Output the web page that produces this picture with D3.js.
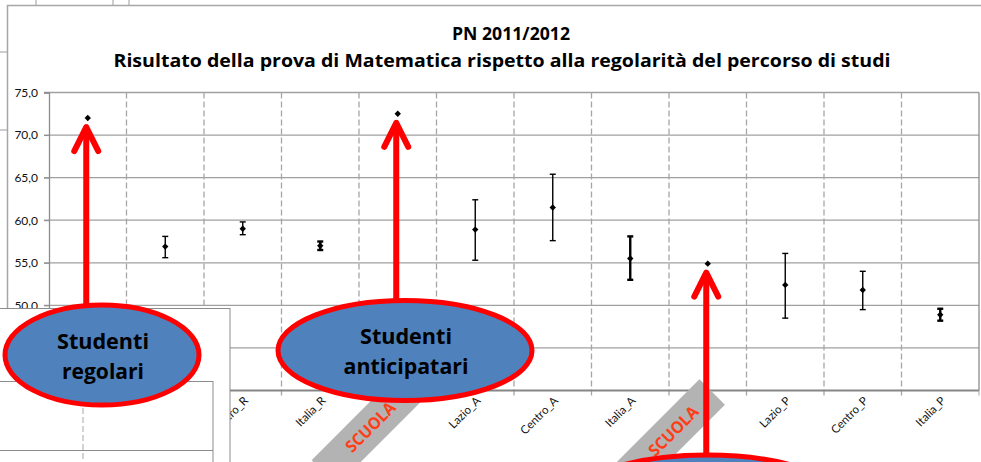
<!DOCTYPE html>
<html>
<head>
<meta charset="utf-8">
<script src="https://cdn.jsdelivr.net/npm/d3@7"></script>
<style>
  html, body { margin: 0; padding: 0; background: #fff; }
  svg { display: block; font-family: Lato, "Open Sans", sans-serif; }
</style>
</head>
<body>
<div id="chart"></div>
<script>
// categories on the x axis (the SCUOLA ones are hidden under the grey tags)
const categories = ["SCUOLA_R", "Lazio_R", "Centro_R", "Italia_R",
                    "SCUOLA_A", "Lazio_A", "Centro_A", "Italia_A",
                    "SCUOLA_P", "Lazio_P", "Centro_P", "Italia_P"];
const tickLabels = ["", "Lazio_R", "Centro_R", "Italia_R",
                    "", "Lazio_A", "Centro_A", "Italia_A",
                    "", "Lazio_P", "Centro_P", "Italia_P"];
const means = [72.0, 56.9, 59.0, 57.0, 72.5, 58.9, 61.5, 55.5, 54.9, 52.4, 51.8, 48.9];
const lows  = [null, 55.6, 58.3, 56.5, null, 55.3, 57.6, 53.0, null, 48.5, 49.5, 48.2];
const highs = [null, 58.1, 59.8, 57.5, null, 62.4, 65.4, 58.1, null, 56.1, 54.0, 49.6];
const yTicks = [40, 45, 50, 55, 60, 65, 70, 75];

const titleLines = ["PN 2011/2012",
  "Risultato della prova di Matematica rispetto alla regolarità del percorso di studi"];
const bubbleTexts = [["Studenti", "regolari"], ["Studenti", "anticipatari"], ["", ""]];
const bubbleTargets = ["SCUOLA_R", "SCUOLA_A", "SCUOLA_P"];
const tagTargets = ["SCUOLA_A", "SCUOLA_P"];

// squeeze a text to a given width (Calibri is narrower than what we have)
function squeeze(sel, w) {
  sel.attr("textLength", w).attr("lengthAdjust", "spacingAndGlyphs");
}

function drawChart(containerSelector) {
  const width = 981, height = 462;
  const left = 49, right = 979, top = 92.5, bottom = 390.5;

  const svg = d3.select(containerSelector).append("svg")
    .attr("width", width).attr("height", height);

  // spreadsheet cells peeking out behind the chart object
  [36, 113, 129].forEach(xx => svg.append("line")
    .attr("x1", xx).attr("x2", xx).attr("y1", 0).attr("y2", 5)
    .attr("stroke", "#9a9a9a"));
  [52, 130].forEach(yy => svg.append("line")
    .attr("x1", 0).attr("x2", 7).attr("y1", yy).attr("y2", yy)
    .attr("stroke", "#9a9a9a"));

  svg.append("rect")
    .attr("x", 7.5).attr("y", 5.5).attr("width", 990).attr("height", 480)
    .attr("fill", "#fff").attr("stroke", "#a6a6a6").attr("stroke-width", 1.5);

  const x = d3.scaleBand().domain(categories).range([left, right]);
  const y = d3.scaleLinear().domain([40, 75]).range([bottom, top]);
  const cx = c => x(c) + x.bandwidth() / 2;

  // title
  const title = svg.append("g")
    .attr("font-family", "'Open Sans', sans-serif").attr("font-size", 17.5)
    .attr("font-weight", "bold").attr("fill", "#000").attr("text-anchor", "middle");
  squeeze(title.append("text").attr("x", 511).attr("y", 40).text(titleLines[0]), 118);
  squeeze(title.append("text").attr("x", 502).attr("y", 67).text(titleLines[1]), 777);

  // horizontal grid
  svg.append("g").selectAll("line")
    .data(yTicks.filter(v => v > 40))
    .join("line")
    .attr("x1", left - 5).attr("x2", right)
    .attr("y1", d => y(d)).attr("y2", d => y(d))
    .attr("stroke", "#a0a0a0").attr("stroke-width", 1.3);

  // dashed category separators
  svg.append("g").selectAll("line")
    .data(categories.slice(1))
    .join("line")
    .attr("x1", d => x(d)).attr("x2", d => x(d))
    .attr("y1", top).attr("y2", bottom + 5)
    .attr("stroke", "#a6a6a6").attr("stroke-width", 1.3)
    .attr("stroke-dasharray", "6,3");

  // y axis
  const yAxis = svg.append("g")
    .attr("transform", `translate(${left},0)`)
    .call(d3.axisLeft(y).tickValues(yTicks).tickSize(5).tickPadding(6)
      .tickFormat(d => d3.format(".1f")(d).replace(".", ",")));
  yAxis.select(".domain").attr("stroke", "#8c8c8c").attr("stroke-width", 1.3);
  yAxis.selectAll(".tick line").attr("stroke", "#8c8c8c");
  yAxis.selectAll("text").attr("font-size", 12).attr("fill", "#111")
    .attr("font-family", "Lato, sans-serif");

  // right border and x axis
  svg.append("line").attr("x1", right).attr("x2", right).attr("y1", top).attr("y2", bottom)
    .attr("stroke", "#8c8c8c").attr("stroke-width", 1.3);
  svg.append("line").attr("x1", left).attr("x2", right).attr("y1", bottom).attr("y2", bottom)
    .attr("stroke", "#868686").attr("stroke-width", 2);
  svg.append("line").attr("x1", right).attr("x2", right).attr("y1", bottom).attr("y2", bottom + 5)
    .attr("stroke", "#a6a6a6");

  // x labels
  svg.append("g").selectAll("text")
    .data(categories)
    .join("text")
    .attr("transform", d => `translate(${cx(d) + 6},${bottom + 11}) rotate(-45)`)
    .attr("text-anchor", "end")
    .attr("font-size", 11.5)
    .attr("fill", "#111")
    .text((d, i) => tickLabels[i]);

  // error bars and points
  const rows = categories.map((c, i) => ({ c, m: means[i], lo: lows[i], hi: highs[i] }));
  const bars = svg.append("g").selectAll("g")
    .data(rows.filter(d => d.lo != null))
    .join("g")
    .attr("stroke", "#000")
    .attr("stroke-width", d => d.c.startsWith("Italia") ? 2.4 : 1.4);
  bars.append("line")
    .attr("x1", d => cx(d.c)).attr("x2", d => cx(d.c))
    .attr("y1", d => y(d.lo)).attr("y2", d => y(d.hi));
  ["lo", "hi"].forEach(key => bars.append("line")
    .attr("x1", d => cx(d.c) - 3).attr("x2", d => cx(d.c) + 3)
    .attr("y1", d => y(d[key])).attr("y2", d => y(d[key])));

  svg.append("g").selectAll("path")
    .data(rows)
    .join("path")
    .attr("d", d3.symbol(d3.symbolDiamond2, 26))
    .attr("transform", d => `translate(${cx(d.c)},${y(d.m)})`)
    .attr("fill", "#000");

  // grey SCUOLA tags over the hidden labels
  const tags = svg.append("g").selectAll("g")
    .data(tagTargets)
    .join("g")
    .attr("transform", (d, i) => `translate(${cx(d) - 38 + (i ? 0 : 7)},${bottom + 44 - (i ? 0 : 4)}) rotate(-45)`);
  tags.append("rect")
    .attr("x", -60).attr("y", -18).attr("width", 120).attr("height", 36)
    .attr("fill", "#b3b3b3");
  tags.append("text")
    .attr("text-anchor", "middle").attr("dy", "0.36em")
    .attr("x", 5).attr("y", 0)
    .attr("font-family", "'Open Sans', sans-serif")
    .attr("font-size", 16.5).attr("font-weight", "bold").attr("fill", "#ff3d17")
    .text("SCUOLA")
    .call(squeeze, 63);

  // pasted picture in the lower left corner
  const inset = svg.append("g").attr("fill", "#fff").attr("stroke", "#8c8c8c");
  inset.append("rect").attr("x", -2).attr("y", 308.5).attr("width", 232).attr("height", 170);
  inset.append("rect").attr("x", -2).attr("y", 381.5).attr("width", 215).attr("height", 100);
  inset.append("line").attr("x1", 0).attr("x2", 213).attr("y1", 450.5).attr("y2", 450.5);
  inset.append("line").attr("x1", 83).attr("x2", 83).attr("y1", 381).attr("y2", 462)
    .attr("stroke", "#a6a6a6").attr("stroke-dasharray", "6,3");

  // red arrows
  const bubbles = [
    { cx: 102, cy: 355, rx: 97, ry: 50 },
    { cx: 405, cy: 350.5, rx: 127, ry: 50 },
    { cx: 707, cy: 505, rx: 140, ry: 50 }
  ];
  const arrows = svg.append("g")
    .attr("stroke", "#ff0000").attr("stroke-width", 6)
    .attr("stroke-linecap", "round").attr("stroke-linejoin", "round").attr("fill", "none");
  bubbleTargets.forEach((c, i) => {
    const ax = cx(c) - 1.5, tip = y(means[categories.indexOf(c)]) + 9;
    const b = bubbles[i];
    arrows.append("path").attr("d", `M${ax},${b.cy - b.ry} L${ax},${tip + 3}`);
    arrows.append("path").attr("d", `M${ax - 12},${tip + 24} L${ax},${tip} L${ax + 12},${tip + 24}`);
  });

  // blue bubbles
  const bub = svg.append("g").selectAll("g")
    .data(bubbles)
    .join("g");
  bub.append("ellipse")
    .attr("cx", d => d.cx).attr("cy", d => d.cy)
    .attr("rx", d => d.rx).attr("ry", d => d.ry)
    .attr("fill", "#4f81bd").attr("stroke", "#ff0000").attr("stroke-width", 5);
  bub.each(function (d, i) {
    const g = d3.select(this);
    bubbleTexts[i].forEach((line, j) => {
      const t = g.append("text")
        .attr("x", d.cx + 1).attr("y", d.cy + (j ? 16 : -14))
        .attr("dy", "0.36em")
        .attr("text-anchor", "middle")
        .attr("font-family", "'Open Sans', sans-serif")
        .attr("font-size", 22)
        .attr("font-weight", "bold").attr("fill", "#000")
        .text(line);
      if (line) squeeze(t, line === "anticipatari" ? 125 : line === "Studenti" ? 92 : 82);
    });
  });
}

drawChart("#chart");
</script>
</body>
</html>
